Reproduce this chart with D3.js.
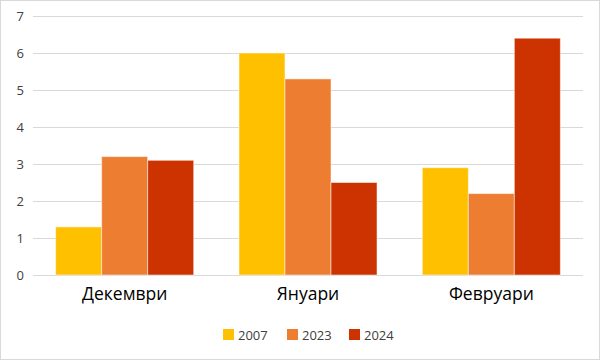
<!DOCTYPE html>
<html><head><meta charset="utf-8">
<script src="https://cdn.jsdelivr.net/npm/d3@7"></script>
<style>html,body{margin:0;padding:0;background:#fff}svg{display:block}</style>
</head><body>
<svg id="c" width="600" height="360"></svg>
<script>
const categories = ["Декември", "Януари", "Февруари"];
const seriesNames = ["2007", "2023", "2024"];
const values2007 = [1.3, 6.0, 2.9];
const values2023 = [3.2, 5.3, 2.2];
const values2024 = [3.1, 2.5, 6.4];
const yTicks = [0, 1, 2, 3, 4, 5, 6, 7];
const colors = ["#FFC000", "#ED7D31", "#CC3300"];

const seriesValues = [values2007, values2023, values2024];
const svg = d3.select("#c");
const W = 600, H = 360;
svg.append("rect").attr("x", 0.5).attr("y", 0.5).attr("width", W - 1).attr("height", H - 1)
  .attr("fill", "#fff").attr("stroke", "#d9d9d9");

const pL = 33, pR = 583, pT = 16, pB = 275;
const x = d3.scaleBand().domain(categories).range([pL, pR]).paddingInner(0.247).paddingOuter(0.1235);
const xs = d3.scaleBand().domain(seriesNames).range([0, x.bandwidth()]);
const y = d3.scaleLinear().domain([0, 7]).range([pB, pT]);

// grid
svg.append("g").selectAll("line").data(yTicks).join("line")
  .attr("x1", pL).attr("x2", pR)
  .attr("y1", d => Math.round(y(d)) + 0.5).attr("y2", d => Math.round(y(d)) + 0.5)
  .attr("stroke", "#d9d9d9").attr("stroke-width", 1);

// y axis
const yAxis = d3.axisLeft(y).tickValues(yTicks).tickSize(0).tickPadding(0).tickFormat(d3.format("d"));
const ga = svg.append("g").attr("transform", `translate(${pL - 9},0)`).call(yAxis);
ga.select(".domain").remove();
ga.selectAll("text").attr("font-family", "'Open Sans', sans-serif").attr("font-size", 13).attr("fill", "#404040");

// bars
const groups = svg.append("g").selectAll("g").data(categories).join("g")
  .attr("transform", d => `translate(${x(d)},0)`);
groups.selectAll("rect").data((c, i) => seriesNames.map((s, j) => ({ s, v: seriesValues[j][i], j })))
  .join("rect")
  .attr("x", d => xs(d.s))
  .attr("y", d => y(d.v))
  .attr("width", xs.bandwidth())
  .attr("height", d => y(0) - y(d.v))
  .attr("fill", d => colors[d.j])
  .attr("stroke", "#fff").attr("stroke-opacity", 0.5).attr("stroke-width", 1);

// x axis labels
const xAxis = d3.axisBottom(x).tickSize(0).tickPadding(0);
const gx = svg.append("g").attr("transform", `translate(0,${pB + 13})`).call(xAxis);
gx.select(".domain").remove();
gx.selectAll("text").attr("font-family", "'Open Sans', sans-serif").attr("font-size", 17.5).attr("fill", "#000");

// legend
const legendX = [223, 287, 349];
const lg = svg.append("g").selectAll("g").data(seriesNames).join("g")
  .attr("transform", (d, i) => `translate(${legendX[i]},329)`);
lg.append("rect").attr("width", 11).attr("height", 11).attr("fill", (d, i) => colors[i]);
lg.append("text").attr("x", 15).attr("y", 10.5).text(d => d)
  .attr("font-family", "'Open Sans', sans-serif").attr("font-size", 13).attr("fill", "#404040");
</script>
</body></html>
